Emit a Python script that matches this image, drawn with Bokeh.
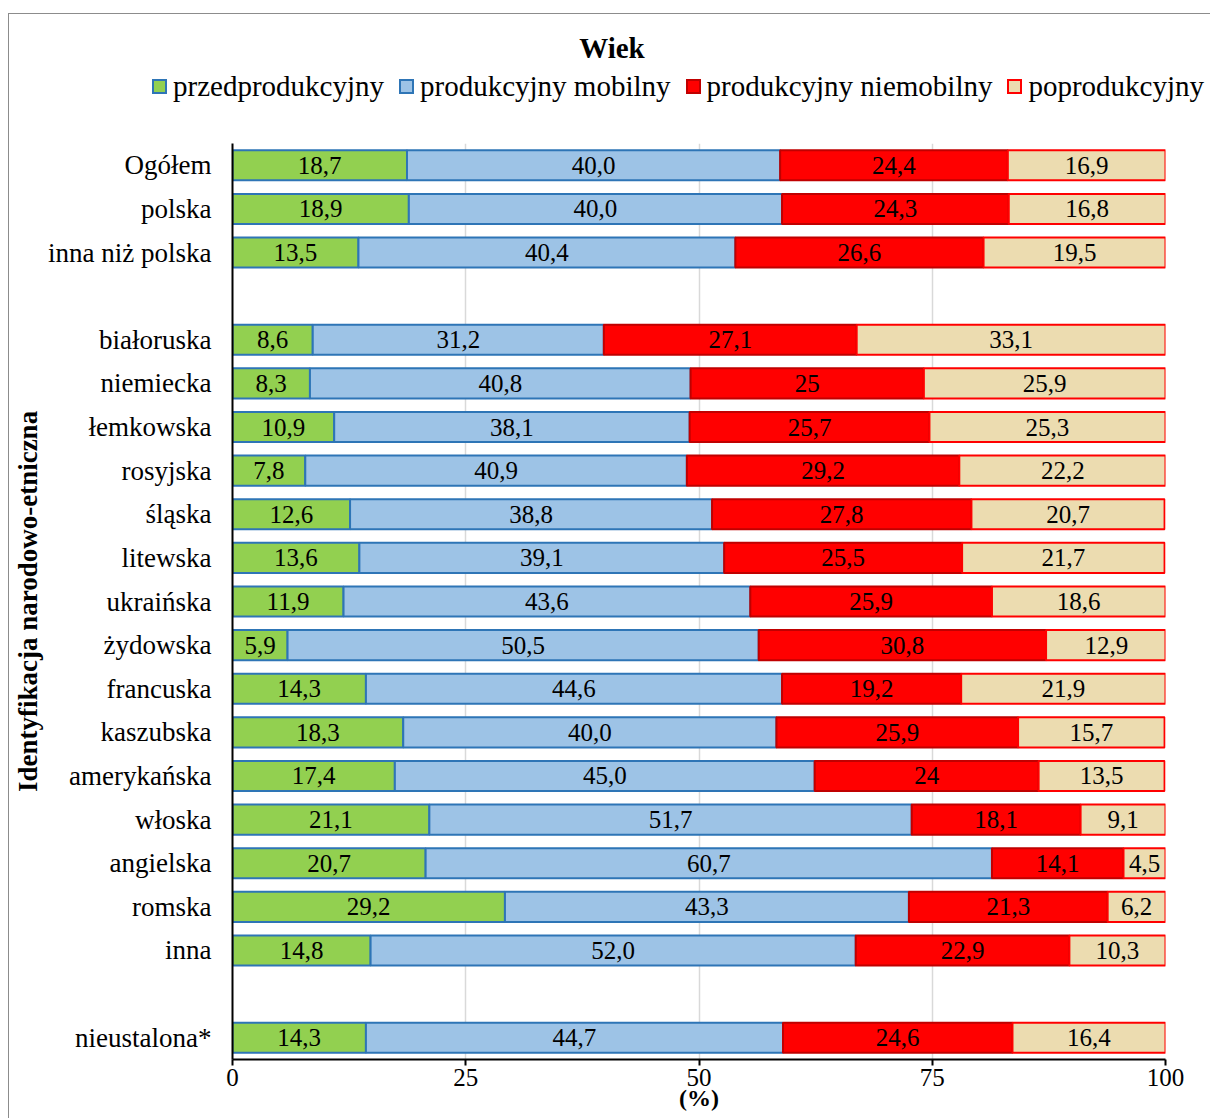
import numpy as np
from bokeh.plotting import figure
from bokeh.layouts import column
from bokeh.models import ColumnDataSource, FactorRange, Range1d, FixedTicker, Div
from bokeh.core.properties import value
from bokeh.embed import file_html
from bokeh.resources import INLINE

categories = ["Ogółem", "polska", "inna niż polska",
              "białoruska", "niemiecka", "łemkowska", "rosyjska", "śląska",
              "litewska", "ukraińska", "żydowska", "francuska", "kaszubska",
              "amerykańska", "włoska", "angielska", "romska", "inna",
              "nieustalona*"]
gap_after = ["inna niż polska", "inna"]

przedprodukcyjny = [18.7, 18.9, 13.5, 8.6, 8.3, 10.9, 7.8, 12.6, 13.6, 11.9, 5.9,
                    14.3, 18.3, 17.4, 21.1, 20.7, 29.2, 14.8, 14.3]
produkcyjny_mobilny = [40.0, 40.0, 40.4, 31.2, 40.8, 38.1, 40.9, 38.8, 39.1, 43.6,
                       50.5, 44.6, 40.0, 45.0, 51.7, 60.7, 43.3, 52.0, 44.7]
produkcyjny_niemobilny = [24.4, 24.3, 26.6, 27.1, 25.0, 25.7, 29.2, 27.8, 25.5, 25.9,
                          30.8, 19.2, 25.9, 24.0, 18.1, 14.1, 21.3, 22.9, 24.6]
poprodukcyjny = [16.9, 16.8, 19.5, 33.1, 25.9, 25.3, 22.2, 20.7, 21.7, 18.6, 12.9,
                 21.9, 15.7, 13.5, 9.1, 4.5, 6.2, 10.3, 16.4]
niemobilny_labels = ["24,4", "24,3", "26,6", "27,1", "25", "25,7", "29,2", "27,8",
                     "25,5", "25,9", "30,8", "19,2", "25,9", "24", "18,1", "14,1",
                     "21,3", "22,9", "24,6"]

title_text = "Wiek"
series_names = ["przedprodukcyjny", "produkcyjny mobilny",
                "produkcyjny niemobilny", "poprodukcyjny"]
fill_colors = ["#92D050", "#9DC3E6", "#FF0000", "#ECDCB0"]
line_colors = ["#2E75B6", "#2E75B6", "#C00000", "#FF0000"]
x_ticks = [0, 25, 50, 75, 100]

FONT = "Liberation Serif"

def fmt(v):
    return f"{v:.1f}".replace(".", ",")

factors = []
gap_id = 0
for c in categories:
    factors.append(c)
    if c in gap_after:
        gap_id += 1
        factors.append(" " * gap_id)

series = [przedprodukcyjny, produkcyjny_mobilny, produkcyjny_niemobilny, poprodukcyjny]
labels = [[fmt(v) for v in przedprodukcyjny],
          [fmt(v) for v in produkcyjny_mobilny],
          niemobilny_labels,
          [fmt(v) for v in poprodukcyjny]]

arr = np.array(series, dtype=float)
rights = np.cumsum(arr, axis=0)
lefts = rights - arr

data = {"cat": categories}
for i in range(4):
    data[f"l{i}"] = lefts[i]
    data[f"r{i}"] = rights[i]
    data[f"m{i}"] = (lefts[i] + rights[i]) / 2
    data[f"t{i}"] = labels[i]
src = ColumnDataSource(data)

W = 1201
TOP_H = 129
MAIN_H = 975

# ---------- header: title + legend (HTML) ----------
legend_items = ""
for i, name in enumerate(series_names):
    gap = "0" if i == len(series_names) - 1 else "15px"
    legend_items += (
        f'<span style="display:inline-flex;align-items:center;margin-right:{gap};">'
        f'<span style="display:inline-block;width:15px;height:15px;box-sizing:border-box;'
        f'background:{fill_colors[i]};border:2px solid {line_colors[i]};'
        f'margin-right:6px;"></span>'
        f'<span>{name}</span></span>'
    )
header_html = (
    f'<div style="position:relative;width:{W}px;height:{TOP_H}px;'
    f'font-family:\'{FONT}\';color:black;">'
    f'<div style="position:absolute;left:0;top:17px;width:1206px;text-align:center;'
    f'font-size:29px;font-weight:bold;line-height:34px;white-space:nowrap;">{title_text}</div>'
    f'<div style="position:absolute;left:143px;top:55px;font-size:29px;'
    f'line-height:34px;white-space:nowrap;display:flex;align-items:center;">'
    f'{legend_items}</div></div>'
)
header = Div(text=header_html, width=W, height=TOP_H, margin=0)

# ---------- main chart ----------
p = figure(width=W, height=MAIN_H, output_backend="svg", toolbar_location=None,
           y_range=FactorRange(factors=list(reversed(factors)), range_padding=0),
           x_range=Range1d(0, 100),
           min_border_left=223, min_border_right=45, min_border_top=0,
           min_border_bottom=59)

for i in range(4):
    p.hbar(y="cat", left=f"l{i}", right=f"r{i}", height=0.69, source=src,
           fill_color=fill_colors[i], line_color=line_colors[i], line_width=2)
for i in range(4):
    p.text(x=f"m{i}", y="cat", text=f"t{i}", source=src,
           text_font=value(FONT), text_font_size="25px", text_color="black",
           text_align="center", text_baseline="middle")

p.outline_line_color = None
p.ygrid.grid_line_color = None
p.xaxis.ticker = FixedTicker(ticks=x_ticks)
p.xgrid.grid_line_color = "#D9D9D9"
p.xgrid.grid_line_width = 1.5

p.xaxis.axis_line_color = "black"
p.xaxis.axis_line_width = 2
p.xaxis.major_tick_line_color = "black"
p.xaxis.major_tick_line_width = 2
p.xaxis.major_tick_out = 6
p.xaxis.major_tick_in = 0
p.xaxis.minor_tick_line_color = None
p.xaxis.major_label_text_font = FONT
p.xaxis.major_label_text_font_size = "25px"
p.xaxis.major_label_text_color = "black"
p.xaxis.major_label_standoff = 3
p.xaxis.axis_label = "(%)"
p.xaxis.axis_label_text_font = FONT
p.xaxis.axis_label_text_font_size = "24px"
p.xaxis.axis_label_text_font_style = "bold"
p.xaxis.axis_label_text_color = "black"
p.xaxis.axis_label_standoff = -4

p.yaxis.axis_line_color = "black"
p.yaxis.axis_line_width = 2
p.yaxis.major_tick_line_color = None
p.yaxis.minor_tick_line_color = None
p.yaxis.major_label_text_font = FONT
p.yaxis.major_label_text_font_size = "27px"
p.yaxis.major_label_text_color = "black"
p.yaxis.major_label_standoff = 15
p.yaxis.axis_label = "Identyfikacja narodowo-etniczna"
p.yaxis.axis_label_text_font = FONT
p.yaxis.axis_label_text_font_size = "27px"
p.yaxis.axis_label_text_font_style = "bold"
p.yaxis.axis_label_text_color = "black"
p.yaxis.axis_label_standoff = 2

layout = column(header, p, spacing=0,
                styles={"margin-left": "8px", "margin-top": "13px",
                        "border-left": "1px solid #8c8c8c",
                        "border-top": "1px solid #8c8c8c"})

open("out.html", "w").write(file_html(layout, INLINE))
